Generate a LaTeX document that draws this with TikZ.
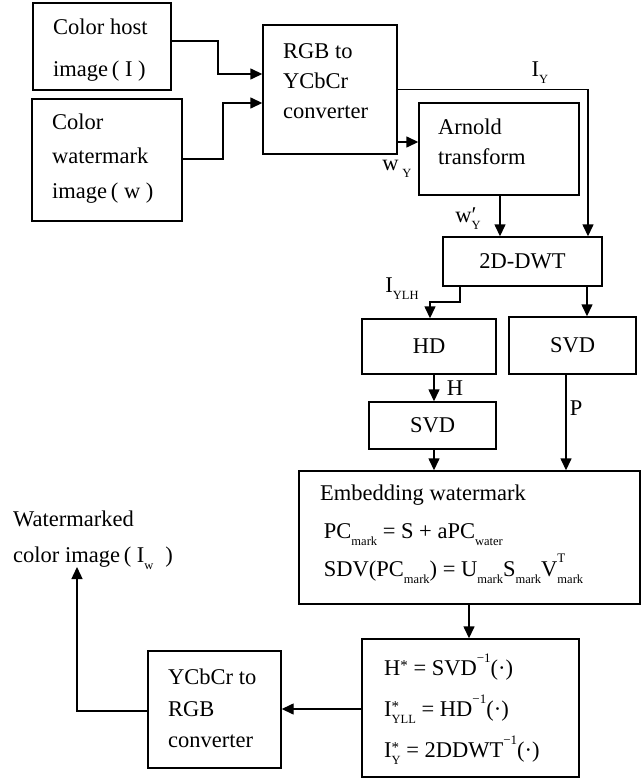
\documentclass[tikz,border=0pt]{standalone}
\usepackage{fontspec}
\setmainfont{Liberation Serif}
\usetikzlibrary{arrows.meta}
\newcommand\mysb[1]{\raisebox{-0.3em}{\fontsize{12.5}{12.5}\selectfont #1}}
\newcommand\mysp[1]{\raisebox{0.6em}{\fontsize{13}{13}\selectfont #1}}
\newcommand\myst{\raisebox{0.25em}{\fontsize{15}{15}\selectfont *}}
\newcommand\myss[2]{\makebox[0pt][l]{#1}\mysb{#2}}
\begin{document}
\begin{tikzpicture}[x=1pt,y=-1pt,
  box/.style={draw, line width=1.4pt, inner sep=0pt},
  txt/.style={inner sep=0pt, align=left, anchor=west},
  lbl/.style={font=\fontsize{22.5}{27}\selectfont, inner sep=0pt},
  arr/.style={line width=1.4pt, -{Triangle[length=12pt,width=11pt]}}]
\useasboundingbox (0,0) rectangle (644,778);

% boxes
\node[box, minimum width=138pt, minimum height=87pt]  (host)   at (102,46.5)   {};
\node[box, minimum width=150pt, minimum height=122pt] (wm)     at (107,160)    {};
\node[box, minimum width=134pt, minimum height=129pt] (rgb)    at (330,89.5)   {};
\node[box, minimum width=160pt, minimum height=92pt]  (arnold) at (499,149)    {};
\node[box, minimum width=159pt, minimum height=49pt, font=\fontsize{22.5}{27}\selectfont]  (dwt) at (522.5,261.5) {2D-DWT};
\node[box, minimum width=134pt, minimum height=55pt, font=\fontsize{22.5}{27}\selectfont]  (hd)  at (429,346.5)   {HD};
\node[box, minimum width=127pt, minimum height=57pt, font=\fontsize{22.5}{27}\selectfont]  (svdr) at (572.5,345.5) {SVD};
\node[box, minimum width=127pt, minimum height=47pt, font=\fontsize{22.5}{27}\selectfont]  (svdl) at (432.5,425.5) {SVD};
\node[box, minimum width=341pt, minimum height=133pt] (emb)    at (469.5,537.5) {};
\node[box, minimum width=217pt, minimum height=138pt] (inv)    at (470.5,708)   {};
\node[box, minimum width=133pt, minimum height=117pt] (ycc)    at (214.5,709.5) {};

% box texts
\node[txt, font=\fontsize{22.5}{42}\selectfont] (hostt) at (53,50) {Color host\\image\,( I )};
\node[txt, font=\fontsize{22.5}{34.5}\selectfont] (wmt) at (52,158.5) {Color\\watermark\\image\,( w )};
\node[txt, font=\fontsize{22.5}{30}\selectfont] (rgbt) at (283,81) {RGB to\\YCbCr\\converter};
\node[txt, font=\fontsize{22.5}{30}\selectfont] (arnoldt) at (438,142) {Arnold\\transform};
\node[txt, font=\fontsize{22.5}{38}\selectfont] (embt) at (320,534)
  {Embedding watermark\\
   \,PC\mysb{mark} = S + aPC\mysb{water}\\
   \,SDV(PC\mysb{mark}) = U\mysb{mark}S\mysb{mark}V\myss{\mysp{T}}{mark}};
\node[txt, font=\fontsize{22.5}{41}\selectfont] (invt) at (384,709)
  {H\myst\ = SVD\mysp{−1}(·)\\
   I\myss{\myst}{YLL} = HD\mysp{−1}(·)\\
   I\myss{\myst}{Y} = 2DDWT\mysp{−1}(·)};
\node[txt, font=\fontsize{22.5}{31.5}\selectfont] (ycct) at (168,708.5) {YCbCr to\\RGB\\converter};
\node[txt, font=\fontsize{22.5}{36}\selectfont] (outt) at (13,540) {Watermarked\\color image\,( I\mysb{w}\; )};

% connector labels
\node[lbl] (lIY) at (540,73) {I\mysb{Y}};
\node[lbl] (lwY) at (397,169) {w\,\mysb{Y}};
\node[lbl] (lwpY) at (468,219) {w\myss{′}{Y}};
\node[lbl] (lIYLH) at (402,289) {I\mysb{YLH}};
\node[lbl] (lH) at (455,388) {H};
\node[lbl] (lP) at (576,408) {P};

% connectors
\draw[arr] (host.east |- 0,41) -| (218,74) -- (rgb.west |- 0,74);
\draw[arr] (wm.east |- 0,159) -| (223,103) -- (rgb.west |- 0,103);
\draw[arr] (rgb.east) -| (dwt.north -| 588,0);
\draw[arr] (rgb.east |- 0,142) -- (arnold.west |- 0,142);
\draw[arr] (arnold.south -| 500,0) -- (dwt.north -| 500,0);
\draw[arr] (dwt.south -| 460,0) |- (430,302) -- (hd.north -| 430,0);
\draw[arr] (dwt.south -| 587,0) -- (svdr.north -| 587,0);
\draw[arr] (hd.south -| 434,0) -- (svdl.north -| 434,0);
\draw[arr] (svdl.south -| 434,0) -- (emb.north -| 434,0);
\draw[arr] (svdr.south -| 566,0) -- (emb.north -| 566,0);
\draw[arr] (emb.south -| 469,0) -- (inv.north -| 469,0);
\draw[arr] (inv.west |- 0,709) -- (ycc.east |- 0,709);
\coordinate (outp) at (77,567);
\draw[arr] (ycc.west |- 0,711) -| (outp);
\end{tikzpicture}
\end{document}
